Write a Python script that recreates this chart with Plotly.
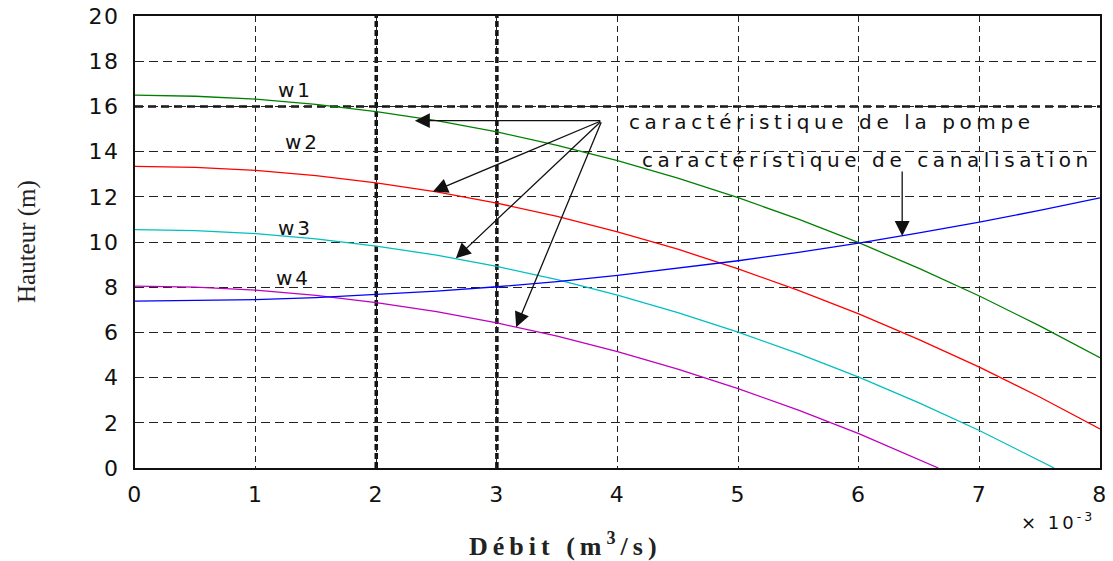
import plotly.graph_objects as go

# Débit (x 1e-3 m3/s)
q_pump = [0, 0.5, 1, 1.5, 2, 2.5, 3, 3.5, 4, 4.5, 5, 5.5, 6, 6.5, 7, 7.5, 8]
w1 = [16.50, 16.45, 16.32, 16.09, 15.77, 15.37, 14.87, 14.28, 13.60, 12.83, 11.96, 11.01, 9.97, 8.83, 7.61, 6.29, 4.88]
w2 = [13.35, 13.30, 13.17, 12.94, 12.62, 12.22, 11.72, 11.13, 10.45, 9.68, 8.81, 7.86, 6.82, 5.68, 4.46, 3.14, 1.73]
q_w3 = [0, 0.5, 1, 1.5, 2, 2.5, 3, 3.5, 4, 4.5, 5, 5.5, 6, 6.5, 7, 7.5, 7.62]
w3 = [10.55, 10.50, 10.37, 10.14, 9.82, 9.42, 8.92, 8.33, 7.65, 6.88, 6.01, 5.06, 4.02, 2.88, 1.66, 0.34, 0.0]
q_w4 = [0, 0.5, 1, 1.5, 2, 2.5, 3, 3.5, 4, 4.5, 5, 5.5, 6, 6.5, 6.66]
w4 = [8.05, 8.00, 7.87, 7.64, 7.32, 6.92, 6.42, 5.83, 5.15, 4.38, 3.51, 2.56, 1.52, 0.38, 0.0]
canal = [7.38, 7.40, 7.45, 7.54, 7.67, 7.83, 8.02, 8.25, 8.52, 8.83, 9.17, 9.54, 9.95, 10.40, 10.88, 11.40, 11.95]

x_ticks = [0, 1, 2, 3, 4, 5, 6, 7, 8]
y_ticks = [0, 2, 4, 6, 8, 10, 12, 14, 16, 18, 20]

curve_labels = ["w1", "w2", "w3", "w4"]
label_x = [1.33, 1.39, 1.33, 1.31]
label_y = [16.73, 14.43, 10.6, 8.4]

pump_text = "caractéristique de la pompe"
canal_text = "caractéristique de canalisation"

# arrows: apex and tips
apex = (3.87, 15.37)
tips_x = [2.32, 2.47, 2.66, 3.16]
tips_y = [15.37, 12.23, 9.28, 6.23]
canal_arrow_x = 6.36
canal_arrow_y = (13.19, 10.27)

fig = go.Figure()
lw = 1.3
fig.add_trace(go.Scatter(x=q_pump, y=w1, mode="lines", line=dict(color="#008000", width=lw)))
fig.add_trace(go.Scatter(x=q_pump, y=w2, mode="lines", line=dict(color="#ff0000", width=lw)))
fig.add_trace(go.Scatter(x=q_w3, y=w3, mode="lines", line=dict(color="#00bfbf", width=lw)))
fig.add_trace(go.Scatter(x=q_w4, y=w4, mode="lines", line=dict(color="#bf00bf", width=lw)))
fig.add_trace(go.Scatter(x=q_pump, y=canal, mode="lines", line=dict(color="#0000ff", width=lw)))

def sp(t, s):
    return f'<span style="letter-spacing:{s}px">{t}</span>'

tickfont = dict(family="DejaVu Sans", size=22, color="#111")

fig.update_xaxes(range=[0, 8], tickvals=x_ticks, ticktext=[sp(v, 1.5) for v in x_ticks],
                 showgrid=True, gridcolor="#222", gridwidth=1, griddash="6px,4px",
                 showline=True, linecolor="#111", linewidth=2, mirror=True, automargin=False,
                 ticks="", zeroline=False, tickfont=tickfont, ticklabelstandoff=6,
                 ticklabeloverflow="allow")
fig.update_yaxes(range=[0, 20], tickvals=y_ticks, ticktext=[sp(v, 1.5) for v in y_ticks],
                 showgrid=True, gridcolor="#222", gridwidth=1, griddash="9px,5px",
                 showline=True, linecolor="#111", linewidth=2, mirror=True, automargin=False,
                 ticks="", zeroline=False, tickfont=tickfont, ticklabelstandoff=9,
                 ticklabeloverflow="allow")

# heavy reference lines
for xv in [2, 3]:
    fig.add_shape(type="line", x0=xv, x1=xv, y0=0, y1=20, xref="x", yref="y",
                  line=dict(color="#111", width=3.5, dash="6px,3px"), layer="below")
fig.add_shape(type="line", x0=0, x1=8, y0=16, y1=16, xref="x", yref="y",
              line=dict(color="#111", width=2.5, dash="8px,5px"), layer="below")

for t, xx, yy in zip(curve_labels, label_x, label_y):
    fig.add_annotation(x=xx, y=yy, text=sp(t, 3), showarrow=False,
                       font=dict(family="DejaVu Sans", size=20, color="#111"))

fig.add_annotation(x=4.08, y=15.31, text=sp(pump_text, 4.6), showarrow=False, xanchor="left",
                   yanchor="middle", font=dict(family="DejaVu Sans", size=20, color="#111"))
fig.add_annotation(x=4.19, y=13.63, text=sp(canal_text, 4.6), showarrow=False, xanchor="left",
                   yanchor="middle", font=dict(family="DejaVu Sans", size=20, color="#111"))

for tx, ty in zip(tips_x, tips_y):
    fig.add_annotation(x=tx, y=ty, ax=apex[0], ay=apex[1], axref="x", ayref="y",
                       xref="x", yref="y", text="", showarrow=True, arrowhead=2,
                       arrowsize=2.3, arrowwidth=1.3, arrowcolor="#111", standoff=0)
fig.add_annotation(x=canal_arrow_x, y=canal_arrow_y[1], ax=canal_arrow_x, ay=canal_arrow_y[0],
                   axref="x", ayref="y", xref="x", yref="y", text="", showarrow=True,
                   arrowhead=2, arrowsize=2.3, arrowwidth=1.3, arrowcolor="#111", standoff=0)

fig.add_annotation(xref="paper", yref="paper", x=0.997, y=-0.117, xanchor="right", yanchor="middle",
                   text=sp("× 10<sup>-3</sup>", 3), showarrow=False,
                   font=dict(family="DejaVu Sans", size=18, color="#111"))
fig.add_annotation(xref="paper", yref="paper", x=0.4456, y=-0.170, xanchor="center", yanchor="middle",
                   text=sp("<b>Débit (m<sup>3</sup>/s)</b>", 5), showarrow=False,
                   font=dict(family="Liberation Serif", size=26, color="#222"))
fig.add_annotation(xref="paper", yref="paper", x=-0.1119, y=0.5, xanchor="center", yanchor="middle",
                   text="Hauteur (m)", textangle=-90, showarrow=False,
                   font=dict(family="Liberation Serif", size=25, color="#222"))

# page body has an 8px margin: size the figure so the plot area lands as in the reference
fig.update_layout(width=1105, height=553, margin=dict(l=127, r=13, t=8, b=93),
                  paper_bgcolor="white", plot_bgcolor="white", showlegend=False)

fig.write_html("out.html")
